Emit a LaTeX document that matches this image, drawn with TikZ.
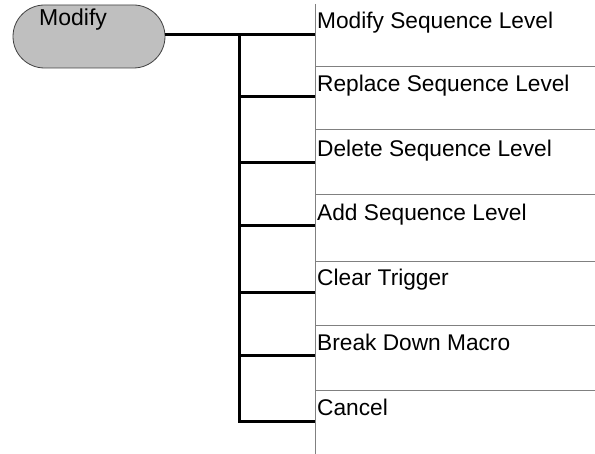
\documentclass[tikz,border=0pt]{standalone}
\usepackage{fontspec}
\setmainfont{Liberation Sans}
\begin{document}
\begin{tikzpicture}[x=1pt,y=-1pt,
  pill/.style={draw=black!75, line width=0.8pt, fill=black!25, rounded corners=31.5pt, minimum width=152pt, minimum height=63pt, inner sep=0pt},
  item/.style={anchor=base west, inner sep=0pt, font=\fontsize{22.7}{26}\selectfont},
  bus/.style={line width=3pt},
  sep/.style={draw=black!50, line width=1pt}]
\useasboundingbox (0,0) rectangle (595,454);
\node[pill] (m) at (89,36.5) {};
\node[anchor=base west, inner sep=0pt, font=\fontsize{23}{26}\selectfont] (ml) at (39,26) {Modify};
% item texts
\node[item] (t1) at (317,29) {Modify Sequence Level};
\node[item] (t2) at (317,92) {Replace Sequence Level};
\node[item] (t3) at (317,157) {Delete Sequence Level};
\node[item] (t4) at (317,221) {Add Sequence Level};
\node[item] (t5) at (317,286) {Clear Trigger};
\node[item] (t6) at (317,351) {Break Down Macro};
\node[item] (t7) at (317,416) {Cancel};
% column line and separators
\coordinate (ct) at (315.5,4);
\coordinate (cb) at (315.5,454);
\draw[sep] (ct) -- (cb);
\foreach \y/\n in {67/1,130/2,195/3,262/4,326/5,391/6}{
  \coordinate (sl\n) at (315.5,\y);
  \coordinate (sr\n) at (595,\y);
  \draw[sep] (sl\n) -- (sr\n);
}
% connectors
\coordinate (j0) at (239,35);
\coordinate (e1) at (315,35);
\draw[bus] (m.east |- j0) -- (e1);
\coordinate (jb) at (239,422);
\draw[bus, line cap=rect] (j0) -- (jb);
\foreach \y/\n in {97/2,163/3,226/4,293/5,356/6,422/7}{
  \coordinate (b\n) at (239,\y);
  \coordinate (e\n) at (315,\y);
  \draw[bus] (b\n) -- (e\n);
}
\end{tikzpicture}
\end{document}
